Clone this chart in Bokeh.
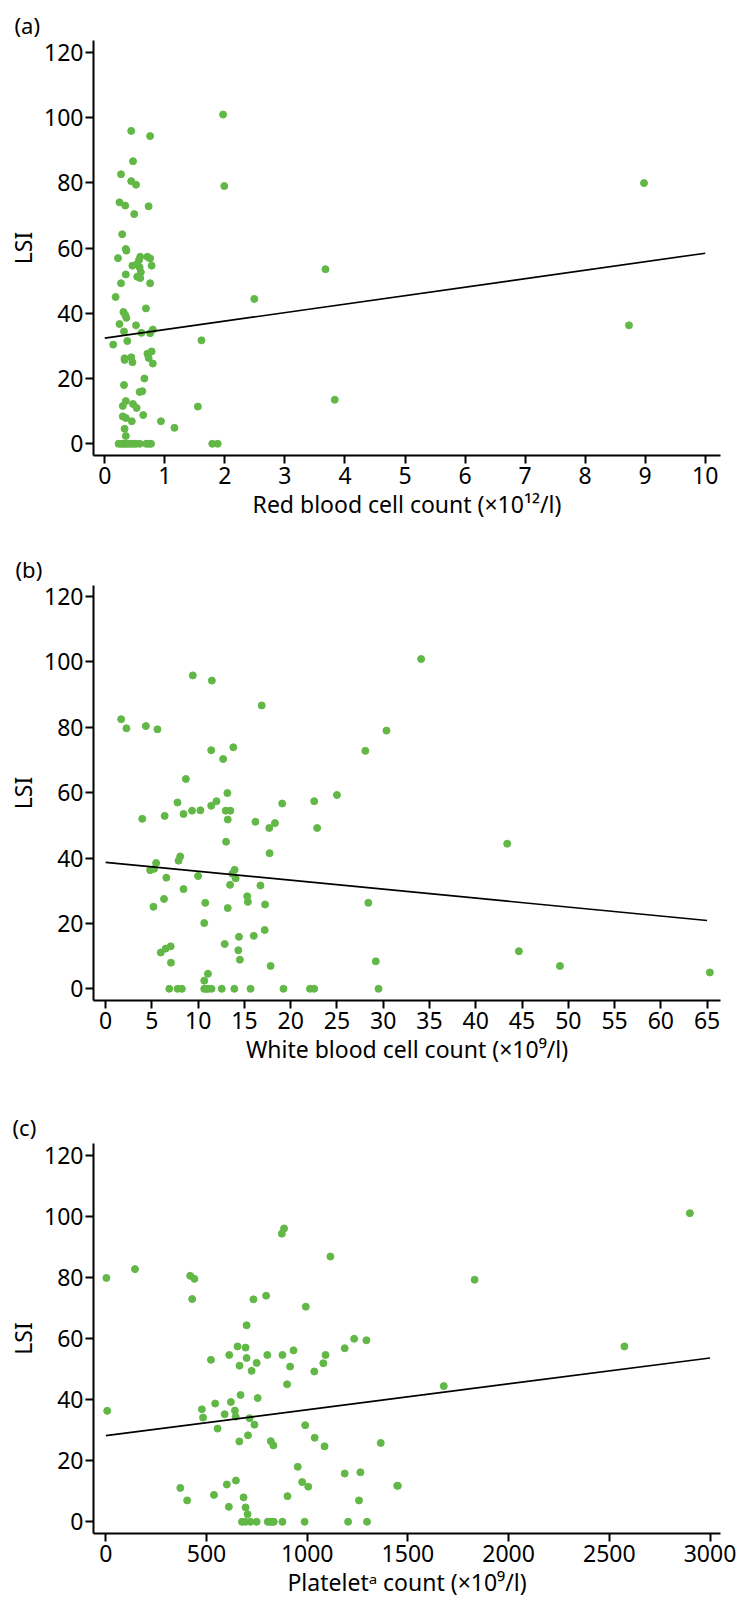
from bokeh.plotting import figure
from bokeh.layouts import column
from bokeh.models import Range1d, FixedTicker
from bokeh.embed import file_html
from bokeh.resources import INLINE

# ---------------- data ----------------
yticks = [0, 20, 40, 60, 80, 100, 120]

# (a) red blood cell count (x10^12/l) vs LSI
rbc_x = [1.97, 0.44, 0.755, 0.47, 0.27, 0.44, 0.52, 1.99, 0.245, 0.34, 0.73, 0.49, 0.29, 0.35, 0.36,
         0.22, 0.59, 0.57, 0.71, 0.755, 0.46, 0.54, 0.58, 0.78, 0.35, 0.54, 0.59, 0.60, 0.27, 0.755,
         0.18, 0.685, 0.31, 0.34, 0.36, 0.245, 0.52, 0.32, 0.61, 0.755, 0.80, 0.14, 0.375, 1.61, 0.71,
         0.78, 0.73, 0.44, 0.33, 0.33, 0.46, 0.80, 0.66, 0.32, 0.58, 0.625, 0.30, 0.35, 0.47, 0.53,
         1.55, 0.30, 0.35, 0.45, 0.64, 0.935, 1.16, 0.33, 0.35, 2.49, 3.675, 3.83, 8.98, 8.73,
         0.23, 0.27, 0.30, 0.33, 0.36, 0.40, 0.44, 0.48, 0.52, 0.58, 0.69, 0.73, 0.77, 1.79, 1.88]
rbc_lsi = [100.9, 95.9, 94.3, 86.6, 82.6, 80.5, 79.4, 79.0, 74.0, 73.0, 72.8, 70.4, 64.2, 59.7, 59.2,
           56.9, 57.3, 56.3, 57.3, 56.8, 54.6, 55.1, 54.1, 54.6, 51.9, 51.2, 50.8, 52.6, 49.2, 49.2,
           45.0, 41.5, 40.4, 39.5, 38.6, 36.7, 36.3, 34.4, 34.0, 33.9, 35.0, 30.4, 31.5, 31.7, 27.6,
           28.3, 26.3, 26.5, 26.2, 25.7, 25.0, 24.6, 20.0, 18.0, 15.9, 16.1, 11.6, 13.1, 12.2, 11.0,
           11.4, 8.4, 7.9, 6.9, 8.8, 6.9, 4.9, 4.6, 2.4, 44.4, 53.5, 13.5, 79.9, 36.3,
           0, 0, 0, 0, 0, 0, 0, 0, 0, 0, 0, 0, 0, 0, 0]
rbc_fit_x = [0, 10]
rbc_fit_y = [32.4, 58.4]
rbc_ticks = [0, 1, 2, 3, 4, 5, 6, 7, 8, 9, 10]

# (b) white blood cell count (x10^9/l) vs LSI
wbc_x = [9.42, 11.48, 16.87, 1.68, 2.25, 4.35, 5.6, 30.35, 11.41, 13.8, 28.07, 12.7, 8.67, 13.16, 25.0,
         7.77, 11.98, 11.41, 19.08, 22.54, 9.34, 10.24, 12.98, 13.48, 8.42, 6.38, 3.96, 13.2, 16.19, 18.3,
         17.69, 22.86, 13.02, 17.72, 8.06, 7.88, 5.46, 4.81, 5.24, 13.94, 13.69, 14.05, 9.99, 6.56, 13.45,
         16.73, 8.42, 15.3, 15.37, 10.77, 28.39, 6.31, 17.23, 5.17, 13.2, 10.66, 17.19, 14.41, 16.01, 12.87,
         7.03, 6.49, 5.96, 14.34, 14.51, 29.2, 7.06, 17.83, 11.06, 10.66,
         34.1, 43.4, 44.66, 49.1, 65.3,
         6.88, 7.77, 8.24, 10.66, 10.88, 11.09, 11.45, 12.55, 13.91, 15.66, 19.22, 22.08, 22.54, 29.49]
wbc_lsi = [95.9, 94.3, 86.7, 82.5, 79.7, 80.4, 79.4, 79.0, 73.0, 73.9, 72.8, 70.3, 64.2, 59.9, 59.3,
           57.0, 57.4, 56.0, 56.7, 57.4, 54.5, 54.6, 54.5, 54.5, 53.5, 52.9, 52.0, 51.8, 51.1, 50.7,
           49.2, 49.2, 45.0, 41.5, 40.5, 39.2, 38.5, 36.3, 36.7, 36.4, 35.2, 33.8, 34.5, 34.0, 31.8,
           31.6, 30.5, 28.3, 26.6, 26.3, 26.3, 27.5, 25.8, 25.1, 24.7, 20.1, 18.0, 15.9, 16.2, 13.7,
           13.0, 12.3, 11.1, 11.8, 8.9, 8.4, 8.0, 7.0, 4.6, 2.5,
           100.9, 44.4, 11.5, 7.0, 5.0,
           0, 0, 0, 0, 0, 0, 0, 0, 0, 0, 0, 0, 0, 0]
wbc_fit_x = [0, 65]
wbc_fit_y = [38.7, 20.9]
wbc_ticks = [0, 5, 10, 15, 20, 25, 30, 35, 40, 45, 50, 55, 60, 65]

# (c) platelet count (x10^9/l) vs LSI
plt_x = [3, 7, 145, 419, 440, 429, 885, 874, 1115, 733, 796, 993, 699, 1233, 1294,
         654, 694, 932, 1186, 613, 802, 877, 1091, 699, 522, 749, 1080, 664, 915, 724,
         1035, 900, 669, 754, 543, 621, 477, 641, 590, 645, 714, 483, 738, 990, 555,
         706, 1037, 663, 819, 832, 1086, 1365, 953, 1186, 1264, 646, 601, 975, 1005, 370,
         1450, 537, 684, 902, 404, 1257, 611, 694, 704,
         2900, 1831, 2575, 1678, 1447,
         676, 693, 718, 749, 804, 814, 826, 834, 877, 987, 1203, 1297]
plt_lsi = [79.8, 36.3, 82.7, 80.5, 79.5, 72.9, 96.0, 94.3, 86.8, 72.8, 74.0, 70.4, 64.3, 59.9, 59.4,
           57.4, 57.0, 56.1, 56.8, 54.6, 54.6, 54.6, 54.6, 53.6, 53.0, 52.0, 51.9, 51.1, 50.8, 49.4,
           49.2, 45.0, 41.5, 40.5, 38.7, 39.2, 36.8, 36.4, 35.2, 34.4, 33.9, 34.1, 31.8, 31.6, 30.5,
           28.3, 27.5, 26.3, 26.4, 25.0, 24.7, 25.8, 18.0, 15.8, 16.2, 13.5, 12.2, 13.0, 11.5, 11.1,
           11.8, 8.8, 8.0, 8.4, 7.0, 7.0, 4.9, 4.7, 2.5,
           101.0, 79.2, 57.4, 44.4, 11.8,
           0, 0, 0, 0, 0, 0, 0, 0, 0, 0, 0, 0]
plt_fit_x = [0, 3000]
plt_fit_y = [28.2, 53.6]
plt_ticks = [0, 500, 1000, 1500, 2000, 2500, 3000]

# ---------------- styling ----------------
FONT = "Noto Sans"
GREEN = "#62b846"
FS = "23px"


def style_axis(ax):
    ax.axis_line_width = 2
    ax.axis_line_color = "black"
    ax.major_tick_line_width = 2
    ax.major_tick_line_color = "black"
    ax.major_tick_out = 8
    ax.major_tick_in = 0
    ax.minor_tick_line_color = None
    ax.major_label_text_font = FONT
    ax.major_label_text_font_size = FS
    ax.major_label_text_color = "black"
    ax.axis_label_text_font = FONT
    ax.axis_label_text_font_size = FS
    ax.axis_label_text_font_style = "normal"
    ax.axis_label_text_color = "black"


def make_panel(tag, tag_off, tag_standoff, xs, ys, fx, fy, xr, yr, xticks, xlabel,
               height, top, bottom, right):
    p = figure(width=737, height=height, output_backend="svg", toolbar_location=None,
               x_range=Range1d(*xr), y_range=Range1d(*yr),
               min_border_left=93, min_border_right=right,
               min_border_top=top, min_border_bottom=bottom)
    p.xgrid.visible = False
    p.ygrid.visible = False
    p.outline_line_color = None
    p.background_fill_color = "white"
    p.border_fill_color = "white"

    p.title.text = tag
    p.title.align = "left"
    p.title.offset = tag_off
    p.title.text_font = FONT
    p.title.text_font_size = "22px"
    p.title.text_font_style = "normal"
    p.title.text_color = "black"
    p.title.standoff = tag_standoff

    p.scatter(xs, ys, size=7, color=GREEN, line_color=GREEN)
    p.line(fx, fy, color="black", line_width=1.7)

    p.xaxis.ticker = FixedTicker(ticks=xticks)
    p.yaxis.ticker = FixedTicker(ticks=yticks)
    p.xaxis.axis_label = xlabel
    p.yaxis.axis_label = "LSI"
    style_axis(p.xaxis[0])
    style_axis(p.yaxis[0])
    p.xaxis.major_label_standoff = 3
    p.xaxis.axis_label_standoff = 1
    p.yaxis.major_label_standoff = 2
    p.yaxis.axis_label_standoff = 2
    return p


pa = make_panel("(a)", -79, 2, rbc_x, rbc_lsi, rbc_fit_x, rbc_fit_y,
                (-0.188, 10.254), (-3.59, 123.6), rbc_ticks,
                "Red blood cell count (×10¹²/l)", 540, 40, 85, 6)
pb = make_panel("(b)", -78, 4, wbc_x, wbc_lsi, wbc_fit_x, wbc_fit_y,
                (-1.31, 66.45), (-3.58, 123.4), wbc_ticks,
                "White blood cell count (×10⁹/l)", 540, 45, 80, 10)
pc = make_panel("(c)", -81, 4, plt_x, plt_lsi, plt_fit_x, plt_fit_y,
                (-61.1, 3052), (-3.83, 123.8), plt_ticks,
                "Plateletᵃ count (×10⁹/l)", 522, 63, 69, 17)

layout = column(pa, pb, pc, spacing=0)
open("out.html", "w").write(file_html(layout, INLINE))
